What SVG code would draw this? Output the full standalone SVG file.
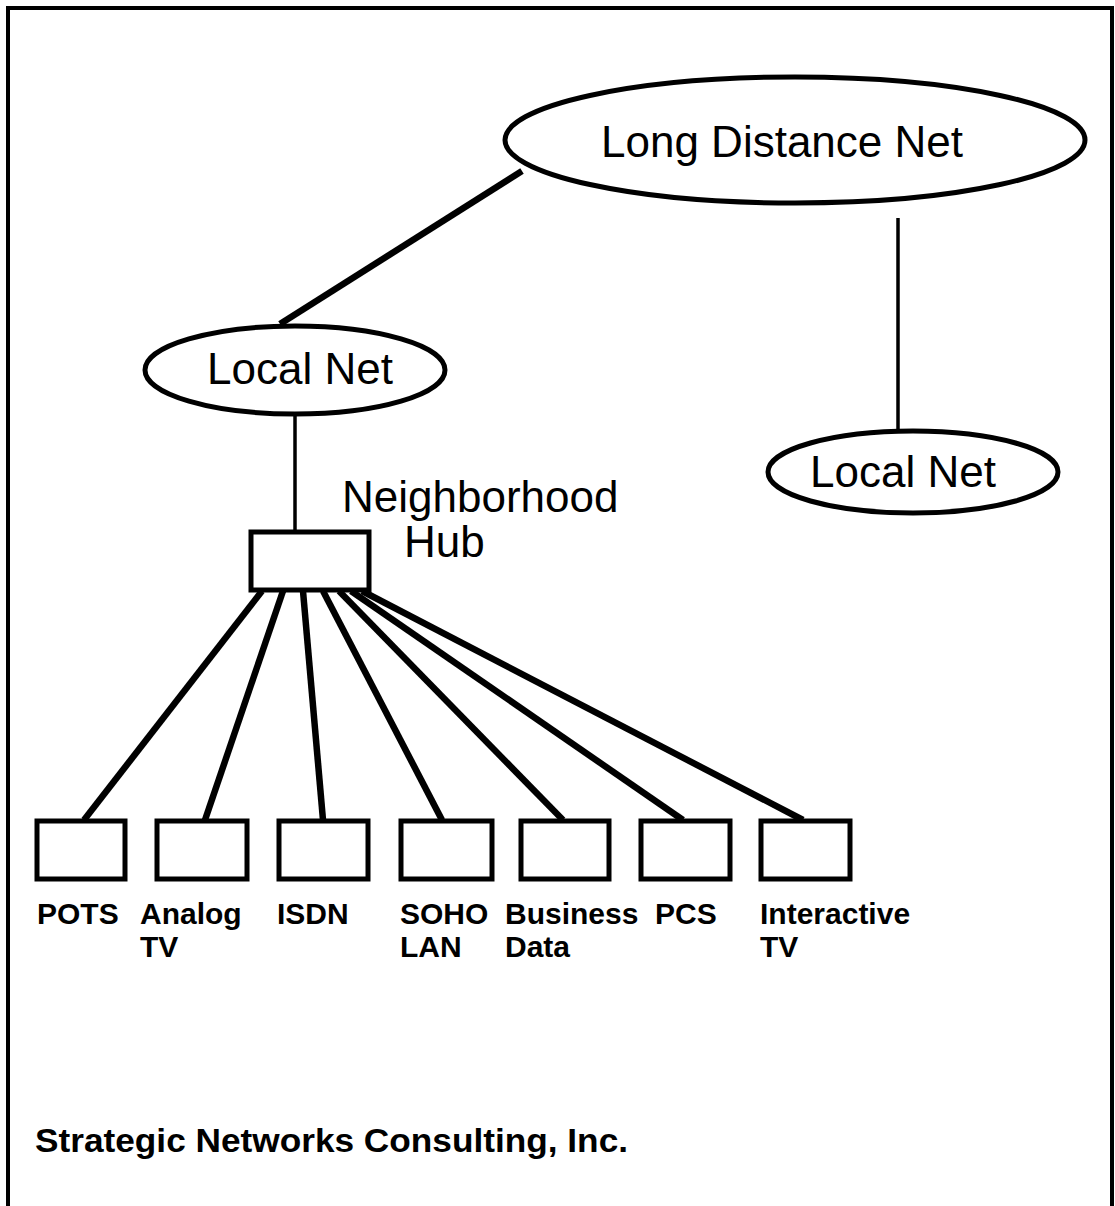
<svg xmlns="http://www.w3.org/2000/svg" width="1115" height="1206" viewBox="0 0 1115 1206">
<style>
.bg{fill:#fff}
.frame{fill:none;stroke:#000;stroke-width:4}
.ell{fill:#fff;stroke:#000;stroke-width:5}
.box{fill:#fff;stroke:#000;stroke-width:5}
.big{font-family:"Liberation Sans",Arial,sans-serif;font-size:44px;fill:#000}
.lbl{font-family:"Liberation Sans",Arial,sans-serif;font-weight:bold;font-size:30px;fill:#000}
.thick{stroke:#000;stroke-width:6.5;fill:none;stroke-linecap:butt}
.thin{stroke:#000;stroke-width:3.5;fill:none}
</style>
<rect class="bg" x="0" y="0" width="1115" height="1206"/>
<rect class="frame" x="8" y="8" width="1104" height="1210"/>
<g id="connectors">
<line class="thick" x1="522" y1="171" x2="280" y2="324"/>
<line class="thin" x1="898" y1="218" x2="898" y2="432"/>
<line class="thin" x1="295" y1="413" x2="295" y2="531"/>
<line class="thick" x1="262" y1="591" x2="84" y2="820"/>
<line class="thick" x1="283" y1="591" x2="205" y2="820"/>
<line class="thick" x1="303" y1="591" x2="323" y2="820"/>
<line class="thick" x1="323" y1="591" x2="442" y2="820"/>
<line class="thick" x1="339" y1="591" x2="563" y2="820"/>
<line class="thick" x1="351" y1="591" x2="683" y2="820"/>
<line class="thick" x1="362" y1="591" x2="803" y2="820"/>
</g>
<g id="long-distance-net">
<ellipse class="ell" cx="795" cy="140" rx="290" ry="63"/>
<text class="big" x="782" y="157" text-anchor="middle">Long Distance Net</text>
</g>
<g id="local-net-left">
<ellipse class="ell" cx="295" cy="370" rx="150" ry="44"/>
<text class="big" x="300" y="384" text-anchor="middle">Local Net</text>
</g>
<g id="local-net-right">
<ellipse class="ell" cx="913" cy="472" rx="145" ry="41"/>
<text class="big" x="903" y="487" text-anchor="middle">Local Net</text>
</g>
<g id="neighborhood-hub">
<rect class="box" x="251" y="532" width="118" height="58"/>
<text class="big" x="342" y="512">Neighborhood</text>
<text class="big" x="404" y="557">Hub</text>
</g>
<g id="pots">
<rect class="box" x="37" y="821" width="88" height="58"/>
<text class="lbl" x="37" y="924">POTS</text>
</g>
<g id="analog-tv">
<rect class="box" x="157" y="821" width="90" height="58"/>
<text class="lbl" x="140" y="924">Analog</text>
<text class="lbl" x="140" y="957">TV</text>
</g>
<g id="isdn">
<rect class="box" x="279" y="821" width="89" height="58"/>
<text class="lbl" x="277" y="924">ISDN</text>
</g>
<g id="soho-lan">
<rect class="box" x="401" y="821" width="91" height="58"/>
<text class="lbl" x="400" y="924">SOHO</text>
<text class="lbl" x="400" y="957">LAN</text>
</g>
<g id="business-data">
<rect class="box" x="521" y="821" width="88" height="58"/>
<text class="lbl" x="505" y="924">Business</text>
<text class="lbl" x="505" y="957">Data</text>
</g>
<g id="pcs">
<rect class="box" x="641" y="821" width="89" height="58"/>
<text class="lbl" x="655" y="924">PCS</text>
</g>
<g id="interactive-tv">
<rect class="box" x="761" y="821" width="89" height="58"/>
<text class="lbl" x="760" y="924">Interactive</text>
<text class="lbl" x="760" y="957">TV</text>
</g>
<text class="lbl" x="35" y="1152" style="font-size:34px" textLength="593" lengthAdjust="spacingAndGlyphs">Strategic Networks Consulting, Inc.</text>
</svg>
